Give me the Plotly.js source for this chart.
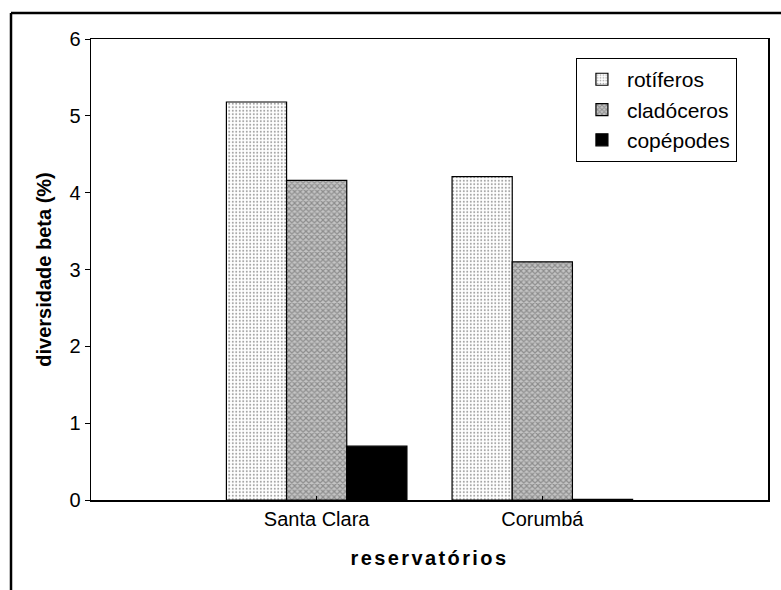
<!DOCTYPE html>
<html>
<head>
<meta charset="utf-8">
<script src="https://cdn.plot.ly/plotly-3.0.1.min.js"></script>
<style>
html,body{margin:0;padding:0;background:#fff;}
#chart{width:781px;height:590px;}
#chart .xtitle{letter-spacing:2.4px;}
</style>
</head>
<body>
<div id="chart"></div>
<script>
const categories = ["Santa Clara", "Corumbá"];
const seriesNames = ["rotíferos", "cladóceros", "copépodes"];
const rotiferos = [5.18, 4.21];
const cladoceros = [4.16, 3.10];
const copepodes = [0.70, 0.01];

const traces = [
  {
    type: "bar", name: seriesNames[0], x: categories, y: rotiferos,
    marker: {color: "#ffffff", line: {color: "#000", width: 1.2},
      pattern: {shape: ".", size: 3.5, solidity: 0.25, fgcolor: "#444", bgcolor: "#ffffff", fillmode: "overlay"}}
  },
  {
    type: "bar", name: seriesNames[1], x: categories, y: cladoceros,
    marker: {color: "#a8a8a8", line: {color: "#000", width: 1.2},
      pattern: {shape: "x", size: 4, solidity: 0.5, fgcolor: "#555", bgcolor: "#c4c4c4", fillmode: "overlay"}}
  },
  {
    type: "bar", name: seriesNames[2], x: categories, y: copepodes,
    marker: {color: "#000000", line: {color: "#000", width: 1.2}}
  }
];

const layout = {
  width: 781, height: 590,
  margin: {l: 91, r: 13, t: 39, b: 90},
  paper_bgcolor: "#fff", plot_bgcolor: "#fff",
  font: {family: "Liberation Sans, Arial, sans-serif", color: "#000", size: 20},
  barmode: "group", bargap: 0.2, bargroupgap: 0,
  showlegend: true,
  legend: {
    x: 0.716, y: 0.959, xanchor: "left", yanchor: "top",
    bgcolor: "#fff", bordercolor: "#000", borderwidth: 1.2,
    font: {size: 21}, tracegroupgap: 0, itemwidth: 40
  },
  xaxis: {
    type: "category", range: [-1, 2],
    showline: true, linecolor: "#000", linewidth: 1.5, mirror: true,
    ticks: "inside", ticklen: 4, tickcolor: "#000",
    tickfont: {size: 20},
    title: {text: "<b>reservatórios</b>", font: {size: 20}, standoff: 22},
    showgrid: false, zeroline: false
  },
  yaxis: {
    range: [0, 6], dtick: 1,
    showline: true, linecolor: "#000", linewidth: 1.5, mirror: true,
    ticks: "outside", ticklen: 5, tickcolor: "#000",
    tickfont: {size: 20},
    title: {text: "<b>diversidade beta (%)</b>", font: {size: 20}, standoff: 12},
    showgrid: false, zeroline: false
  },
  shapes: [
    {type: "line", xref: "paper", yref: "paper", x0: (11-91)/677, x1: (781-91)/677, y0: (500-13)/461, y1: (500-13)/461, line: {color: "#000", width: 2.5}},
    {type: "line", xref: "paper", yref: "paper", x0: (11-91)/677, x1: (11-91)/677, y0: (500-13)/461, y1: (500-590)/461, line: {color: "#000", width: 2.5}}
  ]
};

Plotly.newPlot("chart", traces, layout, {displayModeBar: false, staticPlot: true});
</script>
</body>
</html>
